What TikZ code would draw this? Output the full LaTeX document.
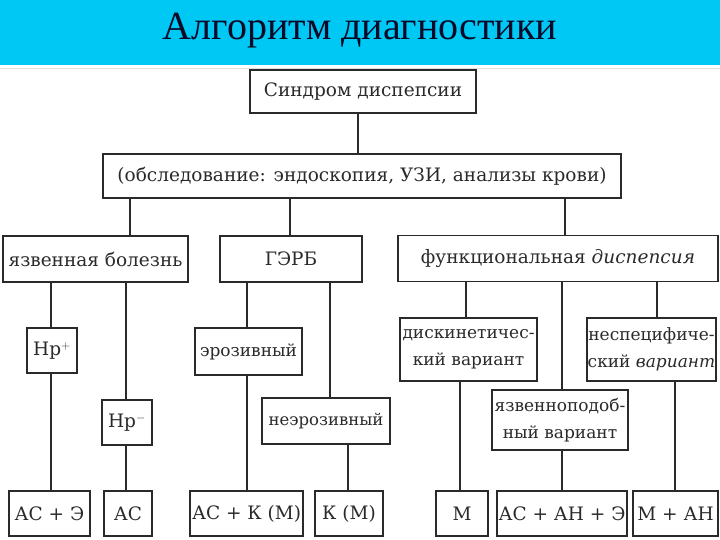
\documentclass[tikz,border=0pt]{standalone}
\usepackage{fontspec}
\setmainfont{DejaVu Serif}
\newfontfamily\titlefont{Liberation Serif}
\definecolor{banner}{HTML}{00C8F5}
\definecolor{ink}{HTML}{2A2A2A}
\begin{document}
\begin{tikzpicture}[x=1pt,y=-1pt,
  bx/.style={draw=ink, line width=1.3pt, inner sep=0pt, align=center, text=ink,
    font=\fontsize{18.5}{27}\selectfont},
  sm/.style={font=\fontsize{17}{27}\selectfont},
  ln/.style={draw=ink, line width=1.6pt}]
\useasboundingbox (0,0) rectangle (720,540);
\fill[white] (0,0) rectangle (720,540);
\fill[banner] (0,0) rectangle (720,65);
\draw[black!12, line width=1pt] (0,69) -- (720,69);
\node[text={rgb,255:red,10;green,10;blue,40}, font=\titlefont\fontsize{40}{42}\selectfont] (title) at (360,31) {Алгоритм диагностики};
% level 1-2
\node[bx, minimum width=226, minimum height=43] (n1) at (363,91.5) {Синдром диспепсии};
\node[bx, minimum width=518, minimum height=44] (n2) at (362,176) {(обследование: эндоскопия, УЗИ, анализы крови)};
% level 3
\node[bx, minimum width=185, minimum height=46] (yb) at (95.5,259) {язвенная болезнь};
\node[bx, minimum width=142, minimum height=46] (gerb) at (291,259) {ГЭРБ};
\node[bx, minimum width=320, minimum height=46] (fd) at (558,258.5) {функциональная \textit{диспепсия}};
% level 4
\node[bx, minimum width=50, minimum height=45] (hpp) at (52,350.5) {Hp$^{+}$};
\node[bx, sm, minimum width=107, minimum height=47] (eroz) at (248.5,351.5) {эрозивный};
\node[bx, sm, minimum width=137, minimum height=63] (disk) at (468.5,349.5) {дискинетичес-\\кий вариант};
\node[bx, sm, minimum width=129, minimum height=63] (nesp) at (651.5,349.5) {неспецифиче-\\ский \textit{вариант}};
% level 5
\node[bx, minimum width=50, minimum height=45] (hpm) at (127,422.5) {Hp$^{-}$};
\node[bx, font=\fontsize{16.5}{27}\selectfont, minimum width=128, minimum height=46] (neer) at (326,421) {неэрозивный};
\node[bx, sm, minimum width=136, minimum height=60] (yazp) at (560,420) {язвенноподоб-\\ный вариант};
% level 6
\node[bx, minimum width=81, minimum height=45] (r1) at (49.5,513.5) {АС + Э};
\node[bx, minimum width=48, minimum height=45] (r2) at (128,513.5) {АС};
\node[bx, minimum width=113, minimum height=45] (r3) at (246.5,513.5) {АС + К (М)};
\node[bx, minimum width=68, minimum height=45] (r4) at (349,513.5) {К (М)};
\node[bx, minimum width=52, minimum height=45] (r5) at (462,513.5) {М};
\node[bx, minimum width=130, minimum height=45] (r6) at (562,513.5) {АС + АН + Э};
\node[bx, minimum width=85, minimum height=45] (r7) at (675.5,513.5) {М + АН};
% column coordinates
\coordinate (c358) at (358,0);
\coordinate (c130) at (130,0);
\coordinate (c290) at (290,0);
\coordinate (c565) at (565,0);
\coordinate (c51) at (51,0);
\coordinate (c126) at (126,0);
\coordinate (c247) at (247,0);
\coordinate (c330) at (330,0);
\coordinate (c466) at (466,0);
\coordinate (c562) at (562,0);
\coordinate (c657) at (657,0);
\coordinate (c348) at (348,0);
\coordinate (c460) at (460,0);
\coordinate (c675) at (675,0);
% connectors
\draw[ln] (n1.south -| c358) -- (n2.north -| c358);
\draw[ln] (n2.south -| c130) -- (yb.north -| c130);
\draw[ln] (n2.south -| c290) -- (gerb.north -| c290);
\draw[ln] (n2.south -| c565) -- (fd.north -| c565);
\draw[ln] (yb.south -| c51) -- (hpp.north -| c51);
\draw[ln] (yb.south -| c126) -- (hpm.north -| c126);
\draw[ln] (gerb.south -| c247) -- (eroz.north -| c247);
\draw[ln] (gerb.south -| c330) -- (neer.north -| c330);
\draw[ln] (fd.south -| c466) -- (disk.north -| c466);
\draw[ln] (fd.south -| c562) -- (yazp.north -| c562);
\draw[ln] (fd.south -| c657) -- (nesp.north -| c657);
\draw[ln] (hpp.south -| c51) -- (r1.north -| c51);
\draw[ln] (hpm.south -| c126) -- (r2.north -| c126);
\draw[ln] (eroz.south -| c247) -- (r3.north -| c247);
\draw[ln] (neer.south -| c348) -- (r4.north -| c348);
\draw[ln] (disk.south -| c460) -- (r5.north -| c460);
\draw[ln] (yazp.south -| c562) -- (r6.north -| c562);
\draw[ln] (nesp.south -| c675) -- (r7.north -| c675);
\end{tikzpicture}
\end{document}
